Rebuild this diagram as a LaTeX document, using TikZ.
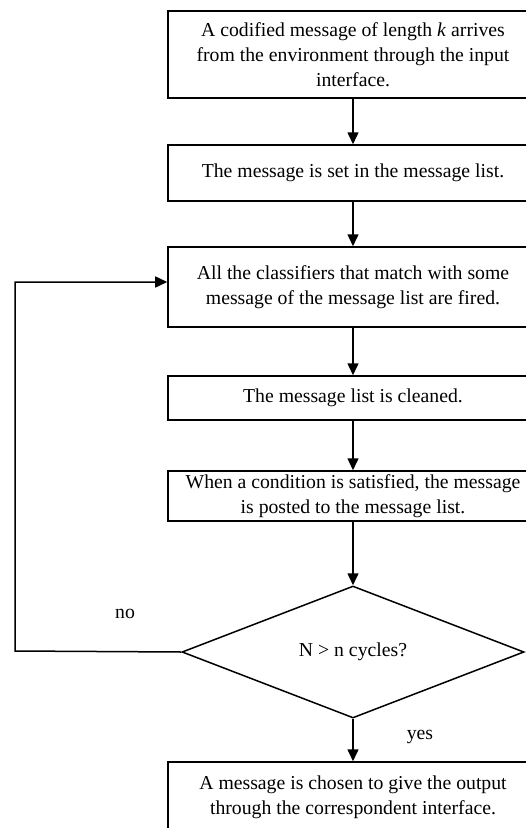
\documentclass[tikz,border=0pt]{standalone}
\usepackage{fontspec}
\setmainfont{Liberation Serif}
\usetikzlibrary{shapes.geometric,arrows.meta}
\begin{document}
\begin{tikzpicture}[x=1bp,y=-1bp,
  font=\fontsize{19.8}{25}\selectfont,
  line width=1.5bp,
  stepbox/.style={draw, rectangle, minimum width=370bp, inner sep=0pt, align=center},
  decision/.style={draw, diamond, aspect=2.59, minimum width=342bp, minimum height=132bp, inner sep=0pt},
  arr/.style={-{Triangle[length=12bp,width=11bp]}},
  lbl/.style={inner sep=0pt}]
\useasboundingbox (0,0) rectangle (526,828);
\clip (0,0) rectangle (526,828);

% processing steps
\node[stepbox, minimum height=87bp] (b1) at (353,54.5)
  {A codified message of length \textit{k} arrives\\from the environment through the input\\interface.};
\node[stepbox, minimum height=56bp] (b2) at (353,173)
  {The message is set in the message list.};
\node[stepbox, minimum height=80bp] (b3) at (353,287)
  {All the classifiers that match with some\\message of the message list are fired.};
\node[stepbox, minimum height=44bp] (b4) at (353,398)
  {The message list is cleaned.};
\node[stepbox, minimum height=50bp] (b5) at (353,496)
  {When a condition is satisfied, the message\\is posted to the message list.};
\node[decision] (d) at (353,652) {N > n cycles?};
\node[stepbox, minimum height=70bp] (b6) at (353,797)
  {A message is chosen to give the output\\through the correspondent interface.};

% flow
\draw[arr] (b1) -- (b2);
\draw[arr] (b2) -- (b3);
\draw[arr] (b3) -- (b4);
\draw[arr] (b4) -- (b5);
\draw[arr] (b5) -- (d);
\draw[arr] (d) -- (b6);

% feedback loop
\coordinate (lb) at (15,651);
\coordinate (lt) at (15,282);
\draw[arr] (d.west) -- (lb) -- (lt) -- (lt -| b3.west);

% branch labels
\node[lbl] (no) at (125,614) {no};
\node[lbl] (yes) at (420,737) {yes};
\end{tikzpicture}
\end{document}
